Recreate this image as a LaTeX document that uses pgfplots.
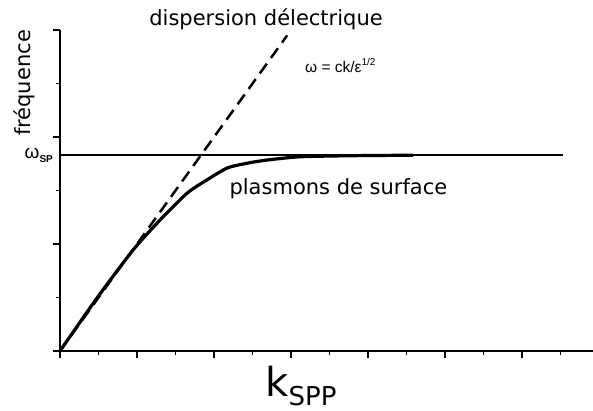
\documentclass[border=0pt]{standalone}
\usepackage{fontspec}
\setmainfont{DejaVu Sans}
\newfontfamily\arial{Liberation Sans}
\usepackage{pgfplots}
\pgfplotsset{compat=1.18}
\begin{document}
\begin{tikzpicture}[x=1pt,y=1pt]
\path[use as bounding box] (-60,-59) rectangle (533,351);
\begin{axis}[at={(0,0)},anchor=south west,scale only axis,width=533pt,height=321pt,
  xmin=0,xmax=13.84,ymin=0,ymax=6,axis lines*=left,clip=false,
  xtick={0,2,...,12},minor xtick={1,3,...,13},ytick={0,2,4,6},minor ytick={1,3,5},
  xticklabels={},yticklabels={},tick align=outside,
  major tick length=7pt,minor tick length=4pt,
  axis line style={line width=2pt},tick style={line width=1.6pt,black},
  xlabel={\fontsize{40}{40}\selectfont k\raisebox{-9pt}{\fontsize{26}{26}\selectfont SPP}},
  xlabel style={at={(axis description cs:0.452,0)},anchor=base,yshift=-45pt,inner sep=0pt}]
% omega = ck/sqrt(eps), light line
\addplot[line width=2.5pt,dash pattern=on 12pt off 7pt] coordinates {(0,0)(5.9,5.9)};
% omega_sp asymptote
\addplot[line width=2.1pt] coordinates {(0,3.66)(13.06,3.66)};
% surface plasmon dispersion
\addplot[line width=3.2pt,smooth,tension=0.4] coordinates {
  (0,0)(0.96,0.99)(1.90,1.89)(2.60,2.45)(3.30,2.95)(3.82,3.20)(4.34,3.42)
  (4.86,3.51)(5.38,3.57)(6.23,3.63)(7.53,3.65)(9.17,3.66)};
\node[anchor=base,inner sep=0pt,font=\fontsize{21}{21}\selectfont] at (axis cs:5.35,6.09) {dispersion délectrique};
\node[anchor=base,inner sep=0pt,font=\fontsize{21}{21}\selectfont] at (axis cs:7.23,2.92) {plasmons de surface};
\node[anchor=base west,inner sep=0pt,font=\arial\fontsize{15.5}{15.5}\selectfont] at (axis cs:6.36,5.2) {ω = ck/ε\raisebox{7pt}{\fontsize{10}{10}\selectfont 1/2}};
\node[anchor=east,inner sep=0pt] at (axis cs:-0.18,3.66) {\arial\fontsize{19}{19}\selectfont ω\raisebox{-4pt}{\fontsize{10}{10}\selectfont\bfseries SP}};
\end{axis}
\node[rotate=90,anchor=center,inner sep=0pt,font=\fontsize{21}{21}\selectfont] at (-36,268) {fréquence};
\end{tikzpicture}
\end{document}
